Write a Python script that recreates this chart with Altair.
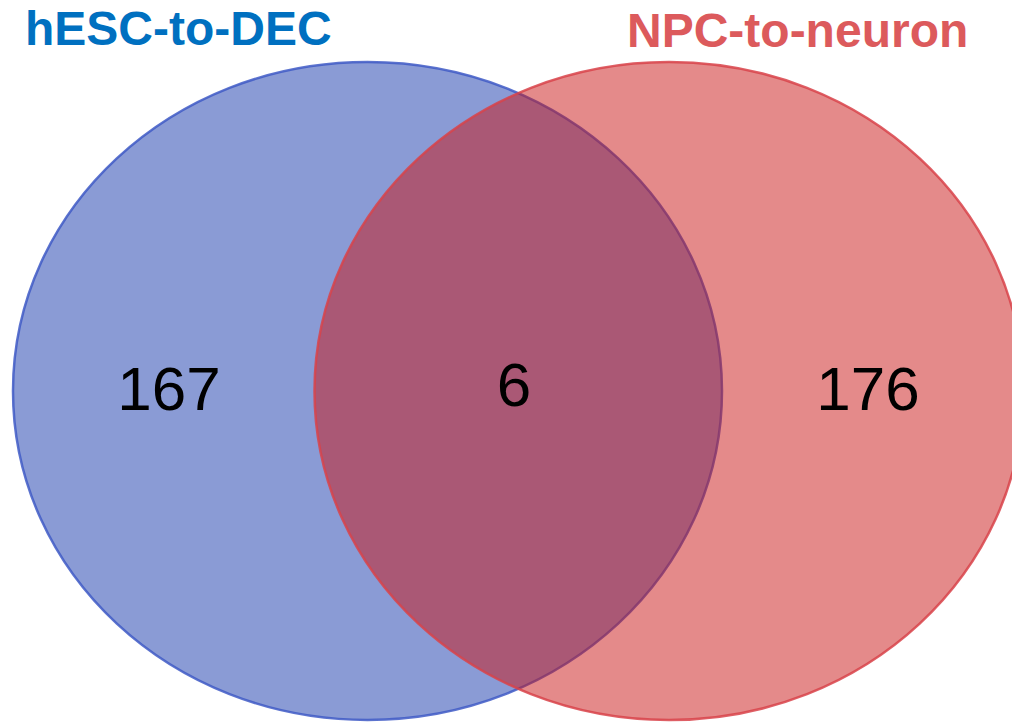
import altair as alt
import pandas as pd

# ---- data ----
set_names = ["hESC-to-DEC", "NPC-to-neuron"]
region_labels = ["hESC-to-DEC only", "both", "NPC-to-neuron only"]
region_counts = [167, 6, 176]

# ---- styles ----
fill_colors = ["#1537AB", "#C91515"]
stroke_colors = ["#3F5AC6", "#D8434A"]
title_colors = ["#0070C0", "#DC5A5C"]

# ---- layout (screen pixel coordinates of the 1020x726 page) ----
PLOT_W, PLOT_H, MARGIN = 1004, 718, 8
ellipse_cx = [367.5, 669.0]
ellipse_cy = [391.0, 391.0]
RX, RY = 354.5, 329.0
count_x = [169.0, 514.0, 868.0]
count_y = [410.0, 406.0, 410.0]
title_x = [25.0, 627.0]
title_y = [44.5, 46.5]

k = 0.5523
r = RY / RX
ellipse_path = (
    f"M 1 0 C 1 {k*r:.4f} {k:.4f} {r:.4f} 0 {r:.4f} "
    f"C {-k:.4f} {r:.4f} -1 {k*r:.4f} -1 0 "
    f"C -1 {-k*r:.4f} {-k:.4f} {-r:.4f} 0 {-r:.4f} "
    f"C {k:.4f} {-r:.4f} 1 {-k*r:.4f} 1 0 Z"
)

xscale = alt.Scale(domain=[MARGIN, MARGIN + PLOT_W], nice=False, zero=False)
yscale = alt.Scale(domain=[MARGIN, MARGIN + PLOT_H], nice=False, zero=False, reverse=True)

sets_df = pd.DataFrame({
    "set": set_names,
    "cx": ellipse_cx,
    "cy": ellipse_cy,
    "tx": title_x,
    "ty": title_y,
})
counts_df = pd.DataFrame({
    "region": region_labels,
    "count": region_counts,
    "x": count_x,
    "y": count_y,
})

ellipses = alt.Chart(sets_df).mark_point(
    shape=ellipse_path, filled=True, fillOpacity=0.5, strokeWidth=2.5, strokeOpacity=0.85
).encode(
    x=alt.X("cx:Q", scale=xscale, axis=None),
    y=alt.Y("cy:Q", scale=yscale, axis=None),
    fill=alt.Fill("set:N", scale=alt.Scale(domain=set_names, range=fill_colors), legend=None),
    stroke=alt.Stroke("set:N", scale=alt.Scale(domain=set_names, range=stroke_colors), legend=None),
    size=alt.value((2 * RX) ** 2),
    order=alt.Order("cx:Q"),
)

counts = alt.Chart(counts_df).mark_text(
    font="Liberation Sans", fontSize=62, color="black", align="center", baseline="alphabetic"
).encode(
    x=alt.X("x:Q", scale=xscale, axis=None),
    y=alt.Y("y:Q", scale=yscale, axis=None),
    text="count:N",
)

titles = alt.Chart(sets_df).mark_text(
    font="Liberation Sans", fontSize=48, fontWeight="bold", align="left", baseline="alphabetic"
).encode(
    x=alt.X("tx:Q", scale=xscale, axis=None),
    y=alt.Y("ty:Q", scale=yscale, axis=None),
    text="set:N",
    color=alt.Color("set:N", scale=alt.Scale(domain=set_names, range=title_colors), legend=None),
)

chart = alt.layer(ellipses, counts, titles).properties(
    width=PLOT_W,
    height=PLOT_H,
    padding=0,
    autosize=alt.AutoSizeParams(type="none"),
    background="white",
).configure_view(stroke=None)

chart.save("out.html", embed_options={"renderer": "svg", "actions": False})
